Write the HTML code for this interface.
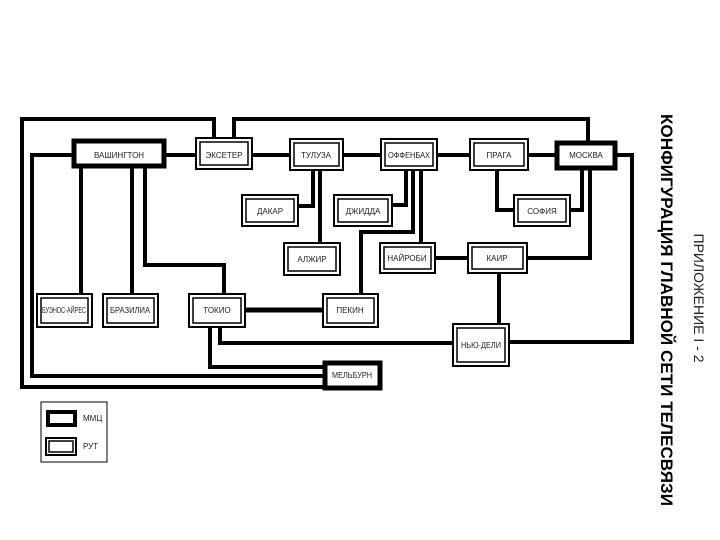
<!DOCTYPE html>
<html><head><meta charset="utf-8"><style>
html,body{margin:0;padding:0;background:#fff;}
svg{display:block;}
text{font-family:"Liberation Sans",sans-serif;font-size:8px;fill:#222;}
</style></head><body>
<svg width="720" height="540" viewBox="0 0 720 540" xmlns="http://www.w3.org/2000/svg">
<g fill="none" stroke="#000" stroke-width="4" stroke-linejoin="miter">
<polyline points="214,139 214,119 22,119 22,387 323,387"/>
<polyline points="234,139 234,119 588,119 588,141"/>
<polyline points="72,155 32,155 32,376 323,376"/>
<line x1="166" y1="155" x2="196" y2="155"/>
<line x1="252" y1="155" x2="290" y2="155"/>
<line x1="343" y1="155" x2="381" y2="155"/>
<line x1="437" y1="155" x2="470" y2="155"/>
<line x1="528" y1="155" x2="555" y2="155"/>
<polyline points="617,155 632,155 632,342 509,342"/>
<line x1="81" y1="168" x2="81" y2="294"/>
<line x1="132" y1="168" x2="132" y2="294"/>
<polyline points="145,168 145,265 224,265 224,294"/>
<polyline points="313,170 313,206 298,206"/>
<line x1="320" y1="170" x2="320" y2="243"/>
<polyline points="406,170 406,205 392,205"/>
<polyline points="413,170 413,232 361,232 361,295"/>
<line x1="421" y1="170" x2="421" y2="243"/>
<polyline points="497,170 497,210 514,210"/>
<polyline points="570,210 582,210 582,169"/>
<polyline points="527,258 590,258 590,169"/>
<line x1="435" y1="258" x2="468" y2="258"/>
<line x1="499" y1="273" x2="499" y2="324"/>
<line x1="245" y1="310" x2="323" y2="310" stroke-width="5"/>
<polyline points="210,327 210,367 323,367"/>
<polyline points="220,327 220,343 453,343"/>
</g>
<g fill="#fff" stroke="#000" stroke-width="5">
<rect x="74" y="141" width="90" height="25"/>
<rect x="557" y="143" width="58" height="25"/>
<rect x="325" y="363" width="55" height="25"/>
<rect x="48" y="412" width="27" height="13" stroke-width="4"/>
</g>
<g fill="#fff" stroke="#000">
<g stroke-width="2">
<rect x="196" y="138" width="56" height="31"/>
<rect x="290" y="139" width="53" height="31"/>
<rect x="381" y="139" width="56" height="31"/>
<rect x="470" y="139" width="58" height="31"/>
<rect x="242" y="195" width="56" height="31"/>
<rect x="334" y="195" width="58" height="31"/>
<rect x="514" y="195" width="56" height="31"/>
<rect x="284" y="243" width="56" height="32"/>
<rect x="380" y="243" width="55" height="30"/>
<rect x="468" y="243" width="59" height="30"/>
<rect x="37" y="294" width="55" height="33"/>
<rect x="103" y="294" width="55" height="33"/>
<rect x="189" y="294" width="56" height="33"/>
<rect x="323" y="294" width="55" height="33"/>
<rect x="453" y="324" width="56" height="42"/>
<rect x="46" y="438" width="30" height="17"/>
</g>
<g stroke-width="1.5" fill="none">
<rect x="200" y="142" width="48" height="23"/>
<rect x="294" y="143" width="45" height="23"/>
<rect x="385" y="143" width="48" height="23"/>
<rect x="474" y="143" width="50" height="23"/>
<rect x="246" y="199" width="48" height="23"/>
<rect x="338" y="199" width="50" height="23"/>
<rect x="518" y="199" width="48" height="23"/>
<rect x="288" y="247" width="48" height="24"/>
<rect x="384" y="247" width="47" height="22"/>
<rect x="472" y="247" width="51" height="22"/>
<rect x="41" y="298" width="47" height="25"/>
<rect x="107" y="298" width="47" height="25"/>
<rect x="193" y="298" width="48" height="25"/>
<rect x="327" y="298" width="47" height="25"/>
<rect x="457" y="328" width="48" height="34"/>
<rect x="49" y="441" width="24" height="11"/>
</g>
</g>
<rect x="41" y="402" width="66" height="60" fill="none" stroke="#000" stroke-width="1"/>
<g text-anchor="middle">
<text x="119" y="158">ВАШИНГТОН</text>
<text x="224" y="158">ЭКСЕТЕР</text>
<text x="316" y="158">ТУЛУЗА</text>
<text x="409" y="158" textLength="42" lengthAdjust="spacingAndGlyphs">ОФФЕНБАХ</text>
<text x="499" y="158">ПРАГА</text>
<text x="586" y="158">МОСКВА</text>
<text x="270" y="214">ДАКАР</text>
<text x="363" y="214">ДЖИДДА</text>
<text x="542" y="214">СОФИЯ</text>
<text x="312" y="262">АЛЖИР</text>
<text x="407" y="261">НАЙРОБИ</text>
<text x="497" y="261">КАИР</text>
<text x="64" y="313" textLength="44" lengthAdjust="spacingAndGlyphs">БУЭНОС-АЙРЕС</text>
<text x="130" y="313" textLength="40" lengthAdjust="spacingAndGlyphs">БРАЗИЛИА</text>
<text x="217" y="313">ТОКИО</text>
<text x="350" y="313">ПЕКИН</text>
<text x="481" y="348" textLength="40" lengthAdjust="spacingAndGlyphs">НЬЮ-ДЕЛИ</text>
<text x="352" y="378" textLength="40" lengthAdjust="spacingAndGlyphs">МЕЛЬБУРН</text>
</g>
<text x="83" y="421">ММЦ</text>
<text x="83" y="449">РУТ</text>
<text transform="translate(694,298) rotate(90)" text-anchor="middle" style="font-size:14px">ПРИЛОЖЕНИЕ I - 2</text>
<text transform="translate(661,310) rotate(90)" text-anchor="middle" textLength="392" lengthAdjust="spacingAndGlyphs" style="font-size:16.5px;font-weight:bold;fill:#000">КОНФИГУРАЦИЯ ГЛАВНОЙ СЕТИ ТЕЛЕСВЯЗИ</text>
</svg>
</body></html>
